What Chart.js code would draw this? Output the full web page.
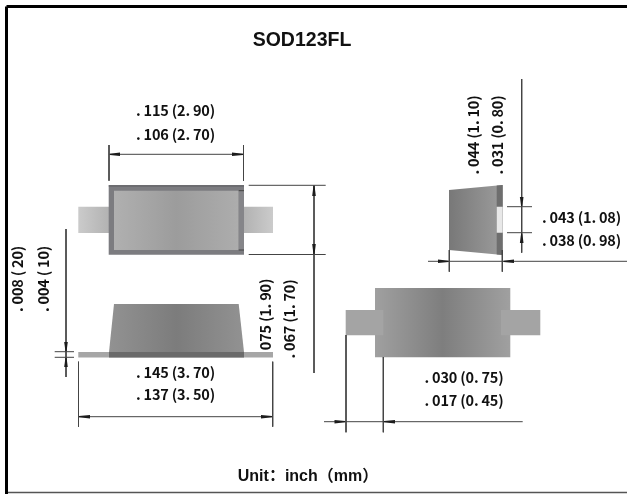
<!DOCTYPE html>
<html>
<head>
<meta charset="utf-8">
<script src="https://cdn.jsdelivr.net/npm/chart.js@4"></script>
<style>
html, body { margin: 0; padding: 0; background: #fff; }
canvas { display: block; }
</style>
</head>
<body>
<canvas id="packageChart" width="627" height="494"></canvas>
<script>
// everything below is in picture units, axes run 0-627 and 0-494
const xMax = 627;
const yMax = 494;

// filled shapes, back to front: [points, colour or gradient stops]
const topLeadLeft = [[78.3, 206.7], [109, 206.7], [109, 233], [78.3, 233]];
const topLeadRight = [[244, 206.7], [273, 206.7], [273, 233], [244, 233]];
const topBody = [[108.7, 185.3], [244, 185.3], [244, 254.7], [108.7, 254.7]];
const topEdge = [[108.7, 185.3], [244, 185.3], [244, 186.6], [108.7, 186.6]];
const topInner = [[114, 190.7], [238.7, 190.7], [238.7, 250], [114, 250]];
const topStrip = [[238.7, 190.7], [244, 190.7], [244, 250], [238.7, 250]];
const sideLead = [[78.3, 352], [273, 352], [273, 357.5], [78.3, 357.5]];
const sideBody = [[114, 304], [238.7, 304], [244, 352], [109, 352]];
const sideBand = [[109, 352], [244, 352], [244, 357.5], [109, 357.5]];
const frontBody = [[375, 288], [510.3, 288], [510.3, 357.3], [375, 357.3]];
const frontLeadLeft = [[345.7, 310], [383.3, 310], [383.3, 335.3], [345.7, 335.3]];
const frontLeadRight = [[501, 310], [540.3, 310], [540.3, 335.3], [501, 335.3]];
const endBody = [[449, 190], [502.7, 185], [502.7, 255], [449, 250]];
const endStrip = [[496.7, 185.5], [502.7, 185], [502.7, 255], [496.7, 254.5]];
const endNotch = [[496.7, 206.7], [502.7, 206.7], [502.7, 232.7], [496.7, 232.7]];

const shapes = [
  [topLeadLeft, ['#cbcbcb', '#b2b2b2']],
  [topLeadRight, ['#b2b2b2', '#cbcbcb']],
  [topBody, '#7c7c80'],
  [topEdge, '#5e5e62'],
  [topInner, ['#b0b0b0', '#9c9c9c', '#adadad']],
  [topStrip, '#858589'],
  [sideLead, '#a6a6a6'],
  [sideBody, ['#929292', '#7c7c7c', '#929292']],
  [sideBand, '#6a6a6a'],
  [frontBody, ['#a0a0a0', '#7e7e7e', '#a0a0a0']],
  [frontLeadLeft, '#a4a4a4'],
  [frontLeadRight, '#a4a4a4'],
  [endBody, ['#787878', '#9c9c9c']],
  [endStrip, '#6e6e6e'],
  [endNotch, '#e8e8e8']
];

// thin leader and dimension lines: x1, y1, x2, y2
const dimLines = [
  [109, 154.3, 244, 154.3], [109, 145, 109, 180.7], [243.5, 145, 243.5, 180.7],
  [248.7, 185.3, 325.7, 185.3], [248.7, 254.5, 325.7, 254.5], [314, 185.3, 314, 373],
  [66, 229, 66, 377], [54.7, 351.7, 74, 351.7], [54.7, 357.3, 74, 357.3],
  [78.5, 416.7, 273, 416.7], [78.5, 361.7, 78.5, 426.7], [272.7, 361.7, 272.7, 426.7],
  [521.7, 79, 521.7, 252.7], [507, 206.7, 532, 206.7], [507, 232.7, 532, 232.7],
  [428, 261.3, 627, 261.3], [449.3, 250, 449.3, 271.7], [502.3, 250, 502.3, 271.7],
  [346, 335, 346, 432.3], [383.3, 357, 383.3, 432.3], [324, 421.7, 522.7, 421.7],
  [238.7, 190.7, 244, 190.7], [238.7, 250, 244, 250]
];

// arrow heads: tip x, tip y, tail x, tail y
const arrowHeads = [
  [110, 154.3, 120, 154.3], [243, 154.3, 232, 154.3],
  [314, 186, 314, 196], [314, 254, 314, 244],
  [66, 351, 66, 342], [66, 358, 66, 367],
  [79, 416.7, 90, 416.7], [272, 416.7, 261, 416.7],
  [521.7, 206, 521.7, 197], [521.7, 233.5, 521.7, 243],
  [448.5, 261.3, 438, 261.3], [503.5, 261.3, 514, 261.3],
  [345, 421.7, 334.5, 421.7], [384, 421.7, 395, 421.7]
];

const frameLines = [[6.5, 494, 6.5, 6.5], [6.5, 6.5, 627, 6.5]];
const frameBottom = [8, 492.5, 627, 492.5];

// text, x, y, angle
const dimLabels = [
  ['. 115 (2. 90)', 175.5, 110.5, 0], ['. 106 (2. 70)', 175.5, 134.5, 0],
  ['. 145 (3. 70)', 175.5, 372.5, 0], ['. 137 (3. 50)', 175.5, 394.5, 0],
  ['. 043 (1. 08)', 581.5, 217.5, 0], ['. 038 (0. 98)', 581.5, 240.5, 0],
  ['. 030 (0. 75)', 464, 377.5, 0], ['. 017 (0. 45)', 464, 400.5, 0],
  ['. 044 (1. 10)', 473, 135, -90], ['. 031 (0. 80)', 497, 135, -90],
  ['. 008 ( 20)', 17, 279, -90], ['. 004 ( 10)', 43, 279, -90],
  ['075 (1. 90)', 265, 314.5, -90], ['. 067 (1. 70)', 289, 319, -90]
];
const titleText = ['SOD123FL', 302, 40.5];
const unitText = ['Unit\uFF1Ainch\uFF08mm\uFF09', 308, 477];

function toPoints(list) {
  return list.map(p => ({ x: p[0], y: p[1] }));
}

function shapeFill(fill, points) {
  if (typeof fill === 'string') return fill;
  return function (context) {
    const chart = context.chart;
    // scales have no size yet on the very first resolve
    if (!chart.chartArea) return fill[0];
    const xs = points.map(p => chart.scales.x.getPixelForValue(p[0]));
    const grad = chart.ctx.createLinearGradient(Math.min(...xs), 0, Math.max(...xs), 0);
    fill.forEach((c, i) => grad.addColorStop(i / (fill.length - 1), c));
    return grad;
  };
}

function lineSet(a, colour, width) {
  return {
    data: [{ x: a[0], y: a[1] }, { x: a[2], y: a[3] }],
    showLine: true, borderColor: colour, borderWidth: width,
    pointRadius: 0, fill: false, clip: false
  };
}

const datasets = [];
shapes.forEach(s => {
  datasets.push({
    data: toPoints(s[0]), showLine: true, fill: 'shape',
    backgroundColor: shapeFill(s[1], s[0]),
    borderWidth: 0, pointRadius: 0
  });
});
dimLines.forEach(l => datasets.push(lineSet(l, '#444444', 1)));
arrowHeads.forEach(a => {
  // blunt wedge, the originals look more like short thick dashes
  const horizontal = a[1] === a[3];
  const pts = horizontal
    ? [[a[0], a[1] - 0.6], [a[2], a[3] - 1.8], [a[2], a[3] + 1.8], [a[0], a[1] + 0.6]]
    : [[a[0] - 0.6, a[1]], [a[2] - 1.8, a[3]], [a[2] + 1.8, a[3]], [a[0] + 0.6, a[1]]];
  datasets.push({
    data: toPoints(pts), showLine: true, fill: 'shape', backgroundColor: '#1c1c1c',
    borderWidth: 0, pointRadius: 0
  });
});
frameLines.forEach(l => datasets.push(lineSet(l, '#000000', 3)));
datasets.push(lineSet(frameBottom, '#555555', 1.5));
// chart.js paints the first dataset last, so go by order instead
datasets.forEach((d, i) => { d.order = datasets.length - i; });

const textPlugin = {
  id: 'drawingText',
  afterDatasetsDraw(chart) {
    const ctx = chart.ctx;
    const put = (t, x, y, angle, font, spacing) => {
      ctx.save();
      ctx.translate(chart.scales.x.getPixelForValue(x), chart.scales.y.getPixelForValue(y));
      ctx.rotate(angle * Math.PI / 180);
      ctx.font = font;
      ctx.letterSpacing = spacing;
      ctx.fillStyle = '#111111';
      ctx.textAlign = 'center';
      ctx.textBaseline = 'middle';
      ctx.fillText(t, 0, 0);
      ctx.restore();
    };
    dimLabels.forEach(l => put(l[0], l[1], l[2], l[3], 'bold 14.5px "Noto Sans CJK KR"', '-0.2px'));
    put(titleText[0], titleText[1], titleText[2], 0, 'bold 19.5px "Liberation Sans"', '0px');
    put(unitText[0], unitText[1], unitText[2], 0, 'bold 16px "Liberation Sans", "Noto Sans CJK SC"', '0px');
  }
};

new Chart(document.getElementById('packageChart'), {
  type: 'scatter',
  data: { datasets: datasets },
  options: {
    responsive: false,
    animation: false,
    layout: { padding: 0 },
    plugins: { legend: { display: false }, tooltip: { enabled: false } },
    scales: {
      x: { type: 'linear', min: 0, max: xMax, display: false },
      y: { type: 'linear', min: 0, max: yMax, reverse: true, display: false }
    }
  },
  plugins: [textPlugin]
});
</script>
</body>
</html>
